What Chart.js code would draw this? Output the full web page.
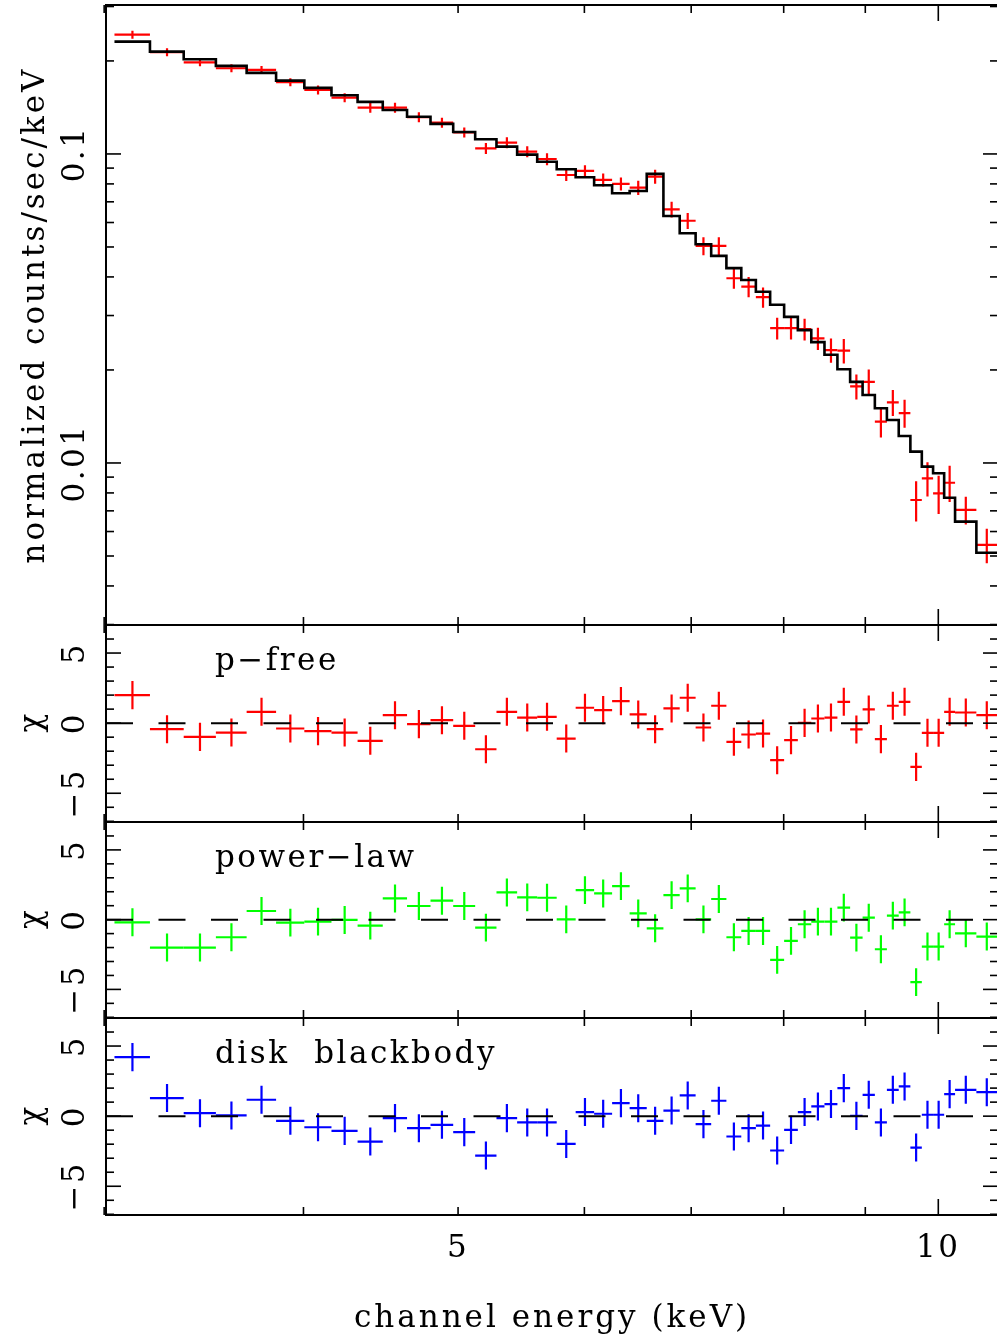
<!DOCTYPE html>
<html>
<head>
<meta charset="utf-8">
<script src="https://cdn.jsdelivr.net/npm/chart.js@4.4.0/dist/chart.umd.min.js"></script>
<style>
  html, body { margin: 0; padding: 0; background: #fff; overflow: hidden; }
  canvas { position: absolute; left: 0; top: 0; }
</style>
</head>
<body>
<canvas id="spectrum" width="1000" height="1340"></canvas>
<canvas id="resPfree" width="1000" height="1340"></canvas>
<canvas id="resPowerlaw" width="1000" height="1340"></canvas>
<canvas id="resDiskbb" width="1000" height="1340"></canvas>
<script>
// channel energies (keV, bin centres) and half bin widths
const energies = [3.125, 3.285, 3.445, 3.605, 3.765, 3.925, 4.085, 4.245, 4.405, 4.565,
  4.725, 4.885, 5.045, 5.205, 5.365, 5.525, 5.685, 5.845, 6.005, 6.165,
  6.325, 6.485, 6.645, 6.805, 6.965, 7.125, 7.285, 7.445, 7.605, 7.765,
  7.925, 8.085, 8.245, 8.405, 8.565, 8.725, 8.885, 9.045, 9.205, 9.365,
  9.525, 9.685, 9.845, 10.005, 10.165, 10.405, 10.725];
const halfWidths = [0.08, 0.08, 0.08, 0.08, 0.08, 0.08, 0.08, 0.08, 0.08, 0.08,
  0.08, 0.08, 0.08, 0.08, 0.08, 0.08, 0.08, 0.08, 0.08, 0.08,
  0.08, 0.08, 0.08, 0.08, 0.08, 0.08, 0.08, 0.08, 0.08, 0.08,
  0.08, 0.08, 0.08, 0.08, 0.08, 0.08, 0.08, 0.08, 0.08, 0.08,
  0.08, 0.08, 0.08, 0.08, 0.08, 0.16, 0.16];

// normalized counts/sec/keV
const countsData = [0.2432, 0.2134, 0.1980, 0.1894, 0.1870, 0.1706, 0.1612, 0.1522, 0.1412, 0.1412,
  0.1315, 0.1263, 0.1175, 0.1043, 0.1088, 0.1017, 0.0963, 0.0855, 0.0881, 0.0824,
  0.0800, 0.0778, 0.0845, 0.0662, 0.0608, 0.0504, 0.0504, 0.0396, 0.0372, 0.0344,
  0.0273, 0.0273, 0.0271, 0.0253, 0.0232, 0.0231, 0.0177, 0.0183, 0.0136, 0.0157,
  0.0145, 0.00759, 0.00892, 0.00797, 0.00863, 0.00705, 0.00543];
const countsErr = [0.0072, 0.0064, 0.0059, 0.0056, 0.0056, 0.0051, 0.0054, 0.0051, 0.0053, 0.0053,
  0.0049, 0.0047, 0.0044, 0.0043, 0.0045, 0.0042, 0.0043, 0.0038, 0.0039, 0.0040,
  0.0039, 0.0041, 0.0044, 0.0039, 0.0036, 0.0034, 0.0034, 0.0030, 0.0028, 0.0026,
  0.0022, 0.0022, 0.0022, 0.0021, 0.0021, 0.0021, 0.00165, 0.00177, 0.00152, 0.00152,
  0.00151, 0.00113, 0.00113, 0.00113, 0.00116, 0.00073, 0.00069];
const countsModel = [0.2309, 0.2144, 0.2025, 0.1927, 0.1829, 0.1727, 0.1636, 0.1549, 0.1474, 0.1388,
  0.1320, 0.1251, 0.1178, 0.1116, 0.1056, 0.0995, 0.0944, 0.0892, 0.0841, 0.0792,
  0.0746, 0.0759, 0.0862, 0.0630, 0.0554, 0.0510, 0.0468, 0.0427, 0.0391, 0.0358,
  0.0325, 0.0297, 0.0269, 0.0246, 0.0224, 0.0201, 0.0183, 0.0166, 0.01503, 0.01377,
  0.01223, 0.01088, 0.00973, 0.00926, 0.00772, 0.00646, 0.00512];

// residuals (chi) for the three fits
const chiPfree = [2.0, -0.43, -0.98, -0.67, 0.81, -0.38, -0.57, -0.67, -1.26, 0.57,
  -0.07, 0.21, -0.19, -1.86, 0.81, 0.40, 0.45, -1.1, 1.1, 0.93,
  1.57, 0.62, -0.43, 1.05, 1.81, -0.31, 1.24, -1.33, -0.81, -0.74,
  -2.64, -1.21, 0.02, 0.33, 0.40, 1.52, -0.45, 0.98, -1.14, 1.24,
  1.52, -3.12, -0.69, -0.69, 0.81, 0.76, 0.57];
const chiPowerlaw = [-0.19, -2.0, -2.0, -1.26, 0.62, -0.21, -0.14, -0.02, -0.43, 1.52,
  0.98, 1.36, 0.98, -0.57, 1.95, 1.6, 1.57, 0.02, 2.12, 1.88,
  2.40, 0.45, -0.62, 1.76, 2.24, 0.02, 1.48, -1.26, -0.81, -0.81,
  -2.88, -1.52, -0.33, -0.14, -0.14, 0.86, -1.29, 0.14, -2.12, 0.29,
  0.52, -4.48, -1.93, -1.93, -0.33, -0.98, -1.21];
const chiDiskbb = [4.21, 1.29, 0.21, 0.05, 1.17, -0.33, -0.79, -1.05, -1.81, -0.14,
  -0.86, -0.62, -1.14, -2.81, -0.14, -0.45, -0.45, -1.98, 0.29, 0.17,
  0.93, 0.57, -0.33, 0.40, 1.48, -0.57, 1.10, -1.45, -0.86, -0.67,
  -2.45, -0.98, 0.29, 0.69, 0.86, 2.0, 0.02, 1.52, -0.45, 1.88,
  2.12, -2.24, 0.10, 0.10, 1.57, 1.88, 1.71];

// ticks and labels
const energyMinorTicks = [3, 4, 5, 6, 7, 8, 9];
const energyMajorTicks = [10];
const energyTickValues = [5, 10];
const energyTickLabels = ["5", "10"];
const countsMinorTicks = [0.003, 0.004, 0.005, 0.006, 0.007, 0.008, 0.009,
  0.02, 0.03, 0.04, 0.05, 0.06, 0.07, 0.08, 0.09, 0.2, 0.3];
const countsMajorTicks = [0.01, 0.1];
const countsTickLabels = ["0.01", "0.1"];
const chiMinorTicks = [-7, -6, -4, -3, -2, -1, 1, 2, 3, 4, 6, 7];
const chiMajorTicks = [-5, 0, 5];
const chiTickLabels = ["\u22125", "0", "5"];

const FONT = '31px "DejaVu Serif", serif';
const X_MIN = 3.008, X_MAX = 10.90;

function vText(ctx, text, x, y) {
  ctx.save();
  ctx.translate(x, y);
  ctx.rotate(-Math.PI / 2);
  ctx.textAlign = "center";
  ctx.fillText(text, 0, 0);
  ctx.restore();
}

function setSpacing(ctx, px) {
  if ("letterSpacing" in ctx) ctx.letterSpacing = px;
}

const crossPlugin = {
  id: "crosses",
  beforeDatasetsDraw(chart) {
    const ctx = chart.ctx, xs = chart.scales.x, ys = chart.scales.y, a = chart.chartArea;
    ctx.save();
    ctx.beginPath();
    ctx.rect(a.left, a.top, a.right - a.left, a.bottom - a.top);
    ctx.clip();
    chart.data.datasets.forEach((ds) => {
      if (!ds.crosses) return;
      ctx.strokeStyle = ds.borderColor;
      ctx.lineWidth = 2.2;
      ds.data.forEach((p) => {
        const x = xs.getPixelForValue(p.x), y = ys.getPixelForValue(p.y);
        ctx.beginPath();
        ctx.moveTo(xs.getPixelForValue(p.xMin), y);
        ctx.lineTo(xs.getPixelForValue(p.xMax), y);
        ctx.moveTo(x, ys.getPixelForValue(p.yMin));
        ctx.lineTo(x, ys.getPixelForValue(p.yMax));
        ctx.stroke();
      });
    });
    ctx.restore();
  },
};

const framePlugin = {
  id: "frame",
  afterDraw(chart, args, opts) {
    const ctx = chart.ctx, xs = chart.scales.x, ys = chart.scales.y, a = chart.chartArea;
    ctx.save();
    ctx.strokeStyle = "#000";
    ctx.lineWidth = 2;
    ctx.strokeRect(a.left, a.top, a.right - a.left, a.bottom - a.top);
    ctx.lineWidth = 1.6;
    const tick = (x1, y1, x2, y2) => {
      ctx.beginPath(); ctx.moveTo(x1, y1); ctx.lineTo(x2, y2); ctx.stroke();
    };
    const xTicks = (vals, len) => vals.forEach((v) => {
      const x = xs.getPixelForValue(v);
      tick(x, a.top, x, a.top + len);
      tick(x, a.bottom, x, a.bottom - len);
    });
    const yTicks = (vals, len) => vals.forEach((v) => {
      const y = ys.getPixelForValue(v);
      tick(a.left, y, a.left + len, y);
      tick(a.right, y, a.right - len, y);
    });
    xTicks(energyMinorTicks, 8);
    xTicks(energyMajorTicks, 16);
    yTicks(opts.yMinor, 8);
    yTicks(opts.yMajor, 15);

    ctx.fillStyle = "#000";
    ctx.font = FONT;
    setSpacing(ctx, "2.5px");
    opts.yMajor.forEach((v, i) => vText(ctx, opts.yLabels[i], 84, ys.getPixelForValue(v)));
    if (opts.panelLabel) {
      ctx.textAlign = "left";
      ctx.fillText(opts.panelLabel, 215, a.top + opts.panelLabelY);
    }
    if (opts.xAxis) {
      ctx.textAlign = "center";
      energyTickValues.forEach((v, i) => ctx.fillText(energyTickLabels[i], xs.getPixelForValue(v), 1257));
      setSpacing(ctx, "3px");
      ctx.fillText("channel energy (keV)", 552, 1327);
    }
    setSpacing(ctx, "3px");
    vText(ctx, opts.yTitle, opts.yTitleX, (a.top + a.bottom) / 2 + (opts.yTitleShift || 0));
    ctx.restore();
  },
};

function makeCrosses(yVals, yErr) {
  return energies.map((e, i) => ({
    x: e, y: yVals[i],
    xMin: e - halfWidths[i], xMax: e + halfWidths[i],
    yMin: yVals[i] - (yErr ? yErr[i] : 1), yMax: yVals[i] + (yErr ? yErr[i] : 1),
  }));
}

function modelSteps() {
  const pts = [];
  energies.forEach((e, i) => {
    pts.push({ x: e - halfWidths[i], y: countsModel[i] });
    pts.push({ x: e + halfWidths[i], y: countsModel[i] });
  });
  return pts;
}

function baseOptions(top, bottom, yScale, frameOpts) {
  return {
    responsive: false,
    animation: false,
    devicePixelRatio: 1,
    events: [],
    layout: { padding: { left: 106, right: 2, top: top, bottom: 1340 - bottom } },
    scales: {
      x: { type: "logarithmic", min: X_MIN, max: X_MAX, display: false },
      y: Object.assign({ display: false }, yScale),
    },
    plugins: { legend: { display: false }, tooltip: { enabled: false }, frame: frameOpts },
  };
}

new Chart(document.getElementById("spectrum"), {
  type: "scatter",
  data: {
    datasets: [
      { data: modelSteps(), showLine: true, borderColor: "#000", borderWidth: 2.6, pointRadius: 0 },
      { data: makeCrosses(countsData, countsErr), crosses: true, borderColor: "#ff0000", pointRadius: 0 },
    ],
  },
  options: baseOptions(5, 625, { type: "logarithmic", min: 0.00299, max: 0.3034 }, {
    yMinor: countsMinorTicks, yMajor: countsMajorTicks, yLabels: countsTickLabels,
    yTitle: "normalized counts/sec/keV", yTitleX: 44,
  }),
  plugins: [crossPlugin, framePlugin],
});

const residualPanels = [
  { id: "resPfree", chi: chiPfree, color: "#ff0000", label: "p\u2212free", top: 625, bottom: 822 },
  { id: "resPowerlaw", chi: chiPowerlaw, color: "#00ff00", label: "power\u2212law", top: 822, bottom: 1018 },
  { id: "resDiskbb", chi: chiDiskbb, color: "#0000ff", label: "disk  blackbody", top: 1018, bottom: 1215 },
];

residualPanels.forEach((p, idx) => {
  new Chart(document.getElementById(p.id), {
    type: "scatter",
    data: {
      datasets: [
        {
          data: [{ x: X_MIN, y: 0 }, { x: X_MAX, y: 0 }],
          showLine: true, borderColor: "#000", borderWidth: 2, borderDash: [27, 25.5], pointRadius: 0,
        },
        { data: makeCrosses(p.chi, null), crosses: true, borderColor: p.color, pointRadius: 0 },
      ],
    },
    options: baseOptions(p.top, p.bottom, { type: "linear", min: -7.05, max: 7.0 }, {
      yMinor: chiMinorTicks, yMajor: chiMajorTicks, yLabels: chiTickLabels,
      yTitle: "\u03c7", yTitleX: 41, yTitleShift: -2,
      panelLabel: p.label, panelLabelY: 45,
      xAxis: idx === residualPanels.length - 1,
    }),
    plugins: [crossPlugin, framePlugin],
  });
});
</script>
</body>
</html>
